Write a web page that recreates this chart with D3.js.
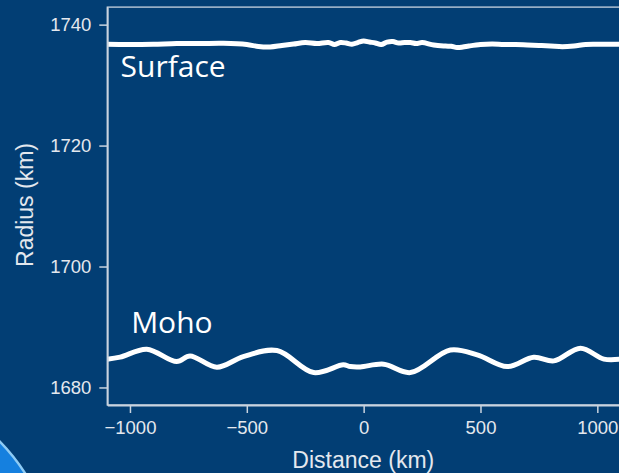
<!DOCTYPE html>
<html>
<head>
<meta charset="utf-8">
<script src="https://cdn.jsdelivr.net/npm/d3@7/dist/d3.min.js"></script>
<style>
  html, body { margin: 0; padding: 0; background: #023e74; overflow: hidden; }
  svg { display: block; }
</style>
</head>
<body>
<svg id="chart" width="619" height="473"></svg>
<script>
// Lunar crust profile: surface and Moho radius along a 2200 km transect
const surfaceDistance = [-1098, -1000, -900, -800, -700, -600, -500, -450, -400, -350, -300, -250, -200, -150, -125, -100, -75, -50, -25, 0, 25, 50, 75, 100, 125, 150, 175, 200, 225, 250, 300, 350, 375, 400, 425, 450, 500, 550, 600, 650, 700, 750, 800, 850, 900, 950, 1000, 1050, 1100];
const surfaceRadius = [1736.74, 1736.71, 1736.76, 1736.88, 1736.88, 1736.91, 1736.71, 1736.38, 1736.30, 1736.55, 1736.79, 1737.04, 1736.88, 1737.04, 1736.71, 1737.04, 1736.96, 1736.76, 1737.04, 1737.29, 1737.12, 1736.96, 1736.71, 1737.12, 1737.21, 1736.96, 1737.04, 1737.04, 1736.88, 1737.04, 1736.63, 1736.46, 1736.41, 1736.21, 1736.30, 1736.46, 1736.71, 1736.79, 1736.71, 1736.71, 1736.63, 1736.55, 1736.46, 1736.35, 1736.46, 1736.71, 1736.74, 1736.74, 1736.76];

const mohoDistance = [-1098, -1042, -928, -800, -743, -628, -515, -371, -214, -87, -57, -14, 86, 200, 371, 486, 614, 728, 814, 928, 1028, 1100];
const mohoRadius = [1684.68, 1685.01, 1686.33, 1684.28, 1685.22, 1683.36, 1685.11, 1686.10, 1682.46, 1683.74, 1683.45, 1683.40, 1683.85, 1682.46, 1686.21, 1685.39, 1683.45, 1685.01, 1684.40, 1686.50, 1684.68, 1684.68];

const xTicks = [-1000, -500, 0, 500, 1000];
const yTicks = [1680, 1700, 1720, 1740];

const layerLabels = [
  { text: "Surface", d: -1040, r: 1731.35 },
  { text: "Moho", d: -995, r: 1688.95 }
];

const svg = d3.select("#chart");
const W = 619, H = 473;
const bg = "#023e74";
const axisColor = "#c9d3df";
const textColor = "#e4e8ee";

svg.append("rect").attr("width", W).attr("height", H).attr("fill", bg);

// decorative corner arc
svg.append("circle")
  .attr("cx", -144).attr("cy", 582).attr("r", 201)
  .attr("fill", "#1580df").attr("stroke", "#8ecbf4").attr("stroke-width", 2.5);

const x = d3.scaleLinear().domain([-1097, 1100]).range([107.3, 620.7]);
const y = d3.scaleLinear().domain([1677.1, 1742.9]).range([405, 7.1]);

// panel border (top / right)
svg.append("rect")
  .attr("x", x.range()[0]).attr("y", y.range()[1])
  .attr("width", x.range()[1] - x.range()[0])
  .attr("height", y.range()[0] - y.range()[1])
  .attr("fill", "none").attr("stroke", axisColor).attr("stroke-width", 1.3);

const line = d3.line()
  .x(d => x(d[0])).y(d => y(d[1]))
  .curve(d3.curveCatmullRom.alpha(0.5));

svg.append("clipPath").attr("id", "panel")
  .append("rect")
  .attr("x", x.range()[0]).attr("y", y.range()[1])
  .attr("width", x.range()[1] - x.range()[0])
  .attr("height", y.range()[0] - y.range()[1]);

const g = svg.append("g").attr("clip-path", "url(#panel)");

g.append("path")
  .datum(d3.zip(surfaceDistance, surfaceRadius))
  .attr("d", line)
  .attr("fill", "none").attr("stroke", "#ffffff")
  .attr("stroke-width", 5).attr("stroke-linejoin", "round");

g.append("path")
  .datum(d3.zip(mohoDistance, mohoRadius))
  .attr("d", line)
  .attr("fill", "none").attr("stroke", "#ffffff")
  .attr("stroke-width", 5).attr("stroke-linejoin", "round");

// layer annotations
svg.selectAll("text.layer")
  .data(layerLabels)
  .join("text")
  .attr("class", "layer")
  .attr("x", d => x(d.d)).attr("y", d => y(d.r))
  .attr("fill", "#ffffff")
  .style("font-family", "'Open Sans', sans-serif")
  .style("font-size", "30px")
  .text(d => d.text);

// axes
const xAxis = d3.axisBottom(x).tickValues(xTicks).tickSize(8).tickPadding(8).tickSizeOuter(0)
  .tickFormat(d3.format("d"));
const yAxis = d3.axisLeft(y).tickValues(yTicks).tickSize(8).tickPadding(8).tickSizeOuter(0)
  .tickFormat(d3.format("d"));

const gx = svg.append("g").attr("transform", `translate(0,${y.range()[0]})`).call(xAxis);
const gy = svg.append("g").attr("transform", `translate(${x.range()[0]},0)`).call(yAxis);

[gx, gy].forEach(a => {
  a.select(".domain").attr("stroke", axisColor).attr("stroke-width", 1.8);
  a.selectAll(".tick line").attr("stroke", axisColor).attr("stroke-width", 1.5);
  a.selectAll(".tick text")
    .attr("fill", textColor)
    .style("font-family", "'Liberation Sans', Arial, sans-serif")
    .style("font-size", "18.5px");
});
gx.selectAll(".tick text").text(d => d < 0 ? "\u2212" + Math.abs(d) : d);

// axis titles
svg.append("text")
  .attr("x", 363.3).attr("y", 468)
  .attr("text-anchor", "middle")
  .attr("fill", textColor)
  .style("font-family", "'Liberation Sans', Arial, sans-serif")
  .style("font-size", "23px")
  .text("Distance (km)");

svg.append("text")
  .attr("transform", "translate(32.5,205) rotate(-90)")
  .attr("text-anchor", "middle")
  .attr("fill", textColor)
  .style("font-family", "'Liberation Sans', Arial, sans-serif")
  .style("font-size", "23px")
  .text("Radius (km)");
</script>
</body>
</html>
